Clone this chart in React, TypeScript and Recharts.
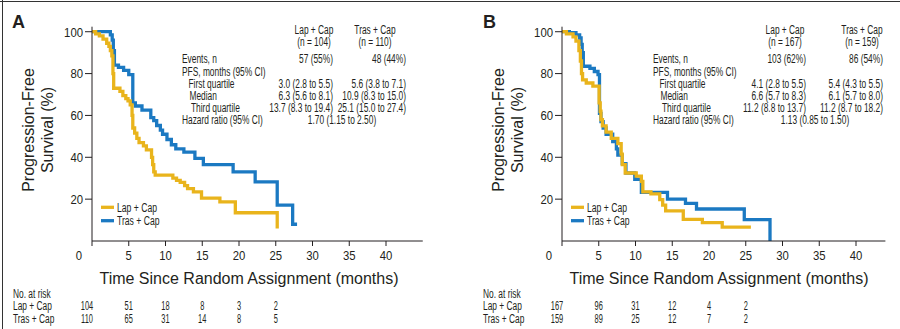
import { LineChart, Line, XAxis, YAxis } from "recharts";

const LAP = "#E9B41C";
const TRAS = "#1B79C2";
const INK = "#231f20";
const SANS = "'Liberation Sans', Arial, sans-serif";

// panel A, Kaplan-Meier steps (months, % progression-free)
const lapTimeA = [0, 0.5, 1.0, 1.5, 2.0, 2.3, 2.5, 2.7, 2.85, 2.95, 3.8, 4.2, 4.6, 4.9, 5.2, 5.45, 5.55, 5.8, 6.1, 6.4, 7.0, 7.4, 8.1, 8.25, 8.4, 8.6, 11.0, 11.5, 12.0, 12.6, 13.0, 13.8, 14.9, 17.4, 19.5, 25.2];
const lapPfsA = [100, 99, 98, 96.5, 94.5, 93, 91, 88.5, 80, 73, 71.5, 69.5, 68, 67, 65, 60, 54, 51.5, 49, 47, 45.5, 43.5, 40, 36.5, 33, 31.5, 30, 29, 28, 26.5, 25, 23.5, 20.5, 18.7, 13.5, 6];
const trasTimeA = [0, 2.5, 2.75, 2.9, 3.05, 3.6, 4.3, 5.0, 5.55, 5.9, 6.8, 8.0, 8.4, 8.8, 9.3, 9.6, 10.2, 10.8, 11.4, 12.5, 14.0, 15.15, 19.2, 22.2, 25.2, 27.3, 27.9];
const trasPfsA = [100, 98.5, 96, 91, 84, 83, 81.5, 79.5, 66, 64.5, 62.5, 59, 57.5, 55.2, 53, 51, 48.5, 46, 44, 42.5, 39.5, 36.5, 33, 28.3, 17.1, 8, 8];

// panel B
const lapTimeB = [0, 0.6, 1.5, 1.9, 2.3, 2.5, 2.65, 2.8, 3.3, 4.2, 5.05, 5.2, 5.3, 5.5, 6.0, 6.7, 7.6, 8.05, 8.2, 8.6, 10.1, 10.8, 11.0, 12.1, 13.3, 13.7, 14.1, 16.5, 19.1, 21.8, 25.7];
const lapPfsB = [100, 99, 97.5, 95.5, 91, 86, 80, 77, 75.5, 74, 66, 62, 58, 55, 52, 49, 46.5, 41.5, 36.5, 32.5, 31, 28.5, 23.5, 22.5, 19.8, 17.1, 14.4, 10.3, 8.8, 6.6, 6.6];
const trasTimeB = [0, 1.0, 1.9, 2.4, 2.6, 2.75, 2.9, 3.8, 4.4, 4.9, 5.1, 5.3, 5.6, 6.0, 6.9, 7.4, 7.6, 8.2, 8.7, 9.9, 10.8, 14.35, 16.8, 18.3, 24.8, 28.3];
const trasPfsB = [100, 99.5, 98.5, 97, 94, 90, 83.5, 82.5, 81, 79.5, 61, 57, 54, 51, 47.5, 44, 41, 37, 32.5, 29.5, 23.2, 20, 18, 15.3, 10.2, 0];

const xTicks = [0, 5, 10, 15, 20, 25, 30, 35, 40];
const yTicks = [20, 40, 60, 80, 100];

const riskTimes = [0, 5, 10, 15, 20, 25];
const riskLapA = [104, 51, 18, 8, 3, 2];
const riskTrasA = [110, 65, 31, 14, 8, 5];
const riskLapB = [167, 96, 31, 12, 4, 2];
const riskTrasB = [159, 89, 25, 12, 7, 2];

const statLabels = ["Events, n", "PFS, months (95% CI)", "First quartile", "Median", "Third quartile"];
const statIndent = [0, 0, 6.5, 7.5, 9];
const statsLapA = ["57 (55%)", "", "3.0 (2.8 to 5.5)", "6.3 (5.6 to 8.1)", "13.7 (8.3 to 19.4)"];
const statsTrasA = ["48 (44%)", "", "5.6 (3.8 to 7.1)", "10.9 (8.3 to 15.0)", "25.1 (15.0 to 27.4)"];
const statsLapB = ["103 (62%)", "", "4.1 (2.8 to 5.5)", "6.6 (5.7 to 8.3)", "11.2 (8.8 to 13.7)"];
const statsTrasB = ["86 (54%)", "", "5.4 (4.3 to 5.5)", "6.1 (5.7 to 8.0)", "11.2 (8.7 to 18.2)"];
const hazardA = "1.70 (1.15 to 2.50)";
const hazardB = "1.13 (0.85 to 1.50)";
const nLapA = 104, nTrasA = 110, nLapB = 167, nTrasB = 159;

// layout
const PX = 7.35; // px per month
const PLOT_TOP = 26.7;
const PLOT_BOTTOM = 241;
const Y_TOP = 102.4;
const ROW_Y = [62.5, 76, 88, 100, 111.5];

const zip = (t: number[], s: number[]) => t.map((v, i) => ({ t: v, s: s[i] }));

// no condensed font is installed: measure Liberation Sans and squeeze it with textLength
const ctx = document.createElement("canvas").getContext("2d")!;
const measure = (s: string, fs: number) => {
  ctx.font = `${fs}px 'Liberation Sans'`;
  return ctx.measureText(s).width;
};

const T = ({ x, y, s, a = "start", fs = 12.3, sx = 0.68 }: any) => {
  const str = String(s);
  if (!str) return null;
  return (
    <text
      x={x}
      y={y}
      textAnchor={a}
      fontFamily={SANS}
      fontSize={fs}
      fill={INK}
      textLength={measure(str, fs) * sx}
      lengthAdjust="spacingAndGlyphs"
    >
      {str}
    </text>
  );
};

const XTick = (props: any) => {
  const { x, y, payload } = props;
  const dx = payload.value === 0 ? -13 : 0;
  return <T x={x + dx} y={y + 12} a="middle" fs={13.5} sx={0.84} s={payload.value} />;
};

const YTick = (props: any) => {
  const { x, y, payload } = props;
  return <T x={x} y={y + 4.8} a="end" fs={13.5} sx={0.84} s={payload.value} />;
};

function Panel({ left, axisX, xMax, lap, tras }: any) {
  return (
    <div style={{ position: "absolute", left, top: 0 }}>
      <LineChart
        width={450}
        height={329}
        margin={{ top: PLOT_TOP, right: 450 - axisX - xMax * PX, left: axisX - 60, bottom: 329 - PLOT_BOTTOM - 30 }}
      >
        <XAxis
          type="number"
          dataKey="t"
          domain={[0, xMax]}
          ticks={xTicks}
          allowDataOverflow
          stroke={INK}
          tickSize={5}
          height={30}
          tick={<XTick />}
        />
        <YAxis
          type="number"
          dataKey="s"
          domain={[0, Y_TOP]}
          ticks={yTicks}
          allowDataOverflow
          stroke={INK}
          tickSize={7}
          width={60}
          tick={<YTick />}
        />
        <Line data={tras} dataKey="s" type="stepAfter" stroke={TRAS} strokeWidth={3.3} dot={false} isAnimationActive={false} />
        <Line data={lap} dataKey="s" type="stepAfter" stroke={LAP} strokeWidth={3.3} dot={false} isAnimationActive={false} />
      </LineChart>
    </div>
  );
}

function PanelText({ ox, axisX, letter, lab, lapC, lapR, trasC, trasR, hrC, nLap, nTras, lapStats, trasStats, hazard, riskLap, riskTras }: any) {
  const rowX = ox + (ox === 0 ? 13 : 33);
  const X = (v: number) => ox + v;
  return (
    <g>
      <text x={X(ox === 0 ? 12 : 33)} y={28} fontFamily={SANS} fontWeight="bold" fontSize={18} fill={INK}>{letter}</text>

      {/* y title */}
      <text transform={`translate(${X(axisX - 64)},130) rotate(-90)`} textAnchor="middle" dominantBaseline="central" fontFamily={SANS} fontSize={16} fill={INK}>
        Progression-Free
      </text>
      <text transform={`translate(${X(axisX - 45)},130) rotate(-90)`} textAnchor="middle" dominantBaseline="central" fontFamily={SANS} fontSize={16} fill={INK}>
        Survival (%)
      </text>

      {/* x title */}
      <text x={X(axisX + 157)} y={283.5} textAnchor="middle" fontFamily={SANS} fontSize={16} fill={INK}>
        Time Since Random Assignment (months)
      </text>

      {/* legend */}
      <line x1={X(axisX + 9)} x2={X(axisX + 22)} y1={207.3} y2={207.3} stroke={LAP} strokeWidth={3.3} />
      <T x={X(axisX + 25)} y={211.8} sx={0.7} s="Lap + Cap" />
      <line x1={X(axisX + 9)} x2={X(axisX + 22)} y1={220.7} y2={220.7} stroke={TRAS} strokeWidth={3.3} />
      <T x={X(axisX + 25)} y={225.3} sx={0.7} s="Tras + Cap" />

      {/* stats table */}
      <T x={X(lapC)} y={34} a="middle" s="Lap + Cap" />
      <T x={X(lapC)} y={45.5} a="middle" s={`(n = ${nLap})`} />
      <T x={X(trasC)} y={34} a="middle" s="Tras + Cap" />
      <T x={X(trasC)} y={45.5} a="middle" s={`(n = ${nTras})`} />
      {statLabels.map((s: string, i: number) => (
        <g key={s}>
          <T x={X(lab + statIndent[i])} y={ROW_Y[i]} s={s} />
          <T x={X(lapR)} y={ROW_Y[i]} a="end" s={lapStats[i]} />
          <T x={X(trasR)} y={ROW_Y[i]} a="end" s={trasStats[i]} />
        </g>
      ))}
      <T x={X(lab)} y={123.5} s="Hazard ratio (95% CI)" />
      <T x={X(hrC)} y={123.5} a="middle" s={hazard} />

      {/* number at risk */}
      <T x={rowX} y={298} s="No. at risk" />
      <T x={rowX} y={310} s="Lap + Cap" />
      <T x={rowX} y={322.5} s="Tras + Cap" />
      {riskTimes.map((rt: number, i: number) => {
        const x = X(axisX + rt * PX - (rt === 0 ? 5 : 0));
        return (
          <g key={rt}>
            <T x={x} y={310} a="middle" fs={12} sx={0.62} s={riskLap[i]} />
            <T x={x} y={322.5} a="middle" fs={12} sx={0.62} s={riskTras[i]} />
          </g>
        );
      })}
    </g>
  );
}

export default function App() {
  return (
    <div style={{ position: "absolute", left: 0, top: 0, width: 900, height: 329, background: "#fff", overflow: "hidden" }}>
      <Panel left={0} axisX={92} xMax={45} lap={zip(lapTimeA, lapPfsA)} tras={zip(trasTimeA, trasPfsA)} />
      <Panel left={450} axisX={112} xMax={44} lap={zip(lapTimeB, lapPfsB)} tras={zip(trasTimeB, trasPfsB)} />
      <svg width={900} height={329} style={{ position: "absolute", left: 0, top: 0, pointerEvents: "none" }}>
        <line x1={0} x2={900} y1={1.5} y2={1.5} stroke="#333" strokeWidth={1} />
        <line x1={2.5} x2={2.5} y1={0} y2={329} stroke="#333" strokeWidth={1} />
        <PanelText
          ox={0} axisX={92} letter="A" lab={182} lapC={314} lapR={333} trasC={375} trasR={406} hrC={342}
          nLap={nLapA} nTras={nTrasA} lapStats={statsLapA} trasStats={statsTrasA} hazard={hazardA}
          riskLap={riskLapA} riskTras={riskTrasA}
        />
        <PanelText
          ox={450} axisX={112} letter="B" lab={203} lapC={335} lapR={356} trasC={412} trasR={433} hrC={365}
          nLap={nLapB} nTras={nTrasB} lapStats={statsLapB} trasStats={statsTrasB} hazard={hazardB}
          riskLap={riskLapB} riskTras={riskTrasB}
        />
      </svg>
    </div>
  );
}
